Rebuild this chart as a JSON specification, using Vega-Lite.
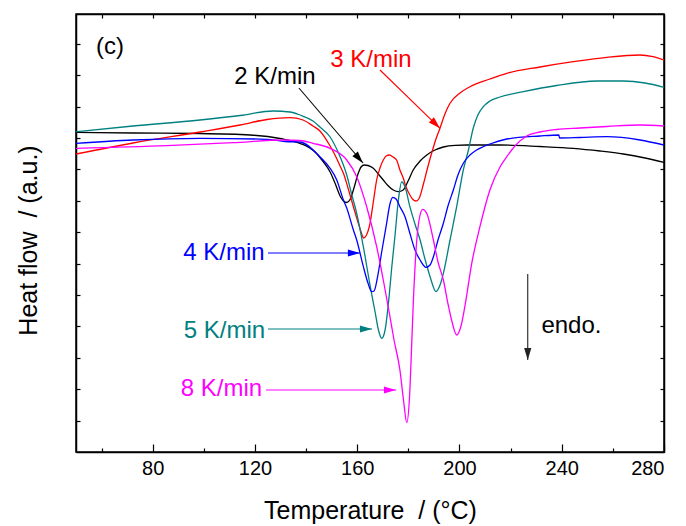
{
  "$schema": "https://vega.github.io/schema/vega-lite/v6.json",
  "width": 588,
  "height": 438,
  "autosize": "none",
  "padding": {"left": 76, "top": 14, "right": 22, "bottom": 74},
  "background": "white",
  "config": {
    "view": {"stroke": "black", "strokeWidth": 1.5},
    "font": "Liberation Sans",
    "axis": {
      "domainColor": "black", "domainWidth": 1.5, "tickColor": "black", "tickWidth": 1.2,
      "labelFont": "Liberation Sans", "labelFontSize": 20, "labelColor": "black",
      "titleFont": "Liberation Sans", "titleFontSize": 25, "titleFontWeight": "normal", "titleColor": "black",
      "grid": false
    }
  },
  "datasets": {
    "curves": [
      {"series":"2 K/min","T":50,"Y":319.7},{"series":"2 K/min","T":72.3,"Y":319},{"series":"2 K/min","T":98.5,"Y":318.5},{"series":"2 K/min","T":118.1,"Y":317},{"series":"2 K/min","T":129.8,"Y":313.5},{"series":"2 K/min","T":137.6,"Y":308.7},{"series":"2 K/min","T":143.5,"Y":300},{"series":"2 K/min","T":146.2,"Y":292},{"series":"2 K/min","T":149.4,"Y":280},{"series":"2 K/min","T":151.3,"Y":269},{"series":"2 K/min","T":153.3,"Y":256},{"series":"2 K/min","T":154.6,"Y":251},{"series":"2 K/min","T":155.9,"Y":249.5},{"series":"2 K/min","T":157.2,"Y":252.5},{"series":"2 K/min","T":158.5,"Y":262},{"series":"2 K/min","T":160.4,"Y":278.7},{"series":"2 K/min","T":161.5,"Y":285},{"series":"2 K/min","T":162.7,"Y":287},{"series":"2 K/min","T":164.2,"Y":286.5},{"series":"2 K/min","T":166.3,"Y":283.7},{"series":"2 K/min","T":168.1,"Y":278.5},{"series":"2 K/min","T":170.2,"Y":272},{"series":"2 K/min","T":172.0,"Y":266.5},{"series":"2 K/min","T":174.1,"Y":262},{"series":"2 K/min","T":176.1,"Y":260.3},{"series":"2 K/min","T":178.0,"Y":262},{"series":"2 K/min","T":179.9,"Y":271},{"series":"2 K/min","T":181.9,"Y":282},{"series":"2 K/min","T":184.6,"Y":291},{"series":"2 K/min","T":187.2,"Y":297},{"series":"2 K/min","T":190.4,"Y":302},{"series":"2 K/min","T":193.7,"Y":305},{"series":"2 K/min","T":198.3,"Y":306.7},{"series":"2 K/min","T":202.8,"Y":307},{"series":"2 K/min","T":215.9,"Y":307},{"series":"2 K/min","T":231.5,"Y":305.5},{"series":"2 K/min","T":244.5,"Y":303.7},{"series":"2 K/min","T":255.0,"Y":301},{"series":"2 K/min","T":264.1,"Y":298},{"series":"2 K/min","T":272.6,"Y":294},{"series":"2 K/min","T":280,"Y":289.7},
      {"series":"3 K/min","T":50,"Y":298},{"series":"3 K/min","T":72.3,"Y":309},{"series":"3 K/min","T":98.5,"Y":320},{"series":"3 K/min","T":114.2,"Y":327},{"series":"3 K/min","T":124.7,"Y":332.5},{"series":"3 K/min","T":133.7,"Y":334.3},{"series":"3 K/min","T":138.8,"Y":332},{"series":"3 K/min","T":142.7,"Y":326},{"series":"3 K/min","T":145.4,"Y":321},{"series":"3 K/min","T":149.4,"Y":306},{"series":"3 K/min","T":151.3,"Y":297},{"series":"3 K/min","T":153.3,"Y":286},{"series":"3 K/min","T":154.6,"Y":278.7},{"series":"3 K/min","T":156.4,"Y":264},{"series":"3 K/min","T":158.5,"Y":245.3},{"series":"3 K/min","T":160.4,"Y":229},{"series":"3 K/min","T":161.5,"Y":220},{"series":"3 K/min","T":162.5,"Y":214},{"series":"3 K/min","T":163.4,"Y":216},{"series":"3 K/min","T":165.0,"Y":228.7},{"series":"3 K/min","T":166.3,"Y":250},{"series":"3 K/min","T":167.6,"Y":272},{"series":"3 K/min","T":168.9,"Y":284},{"series":"3 K/min","T":170.2,"Y":292},{"series":"3 K/min","T":171.3,"Y":296},{"series":"3 K/min","T":172.6,"Y":297},{"series":"3 K/min","T":174.0,"Y":295},{"series":"3 K/min","T":175.4,"Y":292},{"series":"3 K/min","T":176.7,"Y":282},{"series":"3 K/min","T":178.0,"Y":274},{"series":"3 K/min","T":179.1,"Y":265},{"series":"3 K/min","T":180.6,"Y":257},{"series":"3 K/min","T":181.8,"Y":252.5},{"series":"3 K/min","T":183.0,"Y":251},{"series":"3 K/min","T":184.2,"Y":253.5},{"series":"3 K/min","T":185.9,"Y":268},{"series":"3 K/min","T":187.5,"Y":284},{"series":"3 K/min","T":189.1,"Y":298.7},{"series":"3 K/min","T":190.8,"Y":313},{"series":"3 K/min","T":192.4,"Y":324},{"series":"3 K/min","T":194.3,"Y":338},{"series":"3 K/min","T":196.3,"Y":348.7},{"series":"3 K/min","T":200.2,"Y":359},{"series":"3 K/min","T":204.1,"Y":365.3},{"series":"3 K/min","T":211.9,"Y":373},{"series":"3 K/min","T":218.5,"Y":378.7},{"series":"3 K/min","T":231.5,"Y":385},{"series":"3 K/min","T":244.5,"Y":390.3},{"series":"3 K/min","T":257.6,"Y":394.7},{"series":"3 K/min","T":270.6,"Y":397},{"series":"3 K/min","T":275.7,"Y":395.3},{"series":"3 K/min","T":280,"Y":392},
      {"series":"5 K/min","T":50,"Y":320.3},{"series":"5 K/min","T":72.3,"Y":326},{"series":"5 K/min","T":98.5,"Y":332},{"series":"5 K/min","T":114.2,"Y":336.5},{"series":"5 K/min","T":127.1,"Y":341},{"series":"5 K/min","T":133.7,"Y":340},{"series":"5 K/min","T":137.6,"Y":337},{"series":"5 K/min","T":142.7,"Y":331},{"series":"5 K/min","T":145.4,"Y":325},{"series":"5 K/min","T":149.4,"Y":315},{"series":"5 K/min","T":152.5,"Y":300},{"series":"5 K/min","T":155.9,"Y":277},{"series":"5 K/min","T":158.0,"Y":256},{"series":"5 K/min","T":159.8,"Y":238.7},{"series":"5 K/min","T":162.4,"Y":205.3},{"series":"5 K/min","T":165.0,"Y":167},{"series":"5 K/min","T":167.0,"Y":140},{"series":"5 K/min","T":168.3,"Y":122},{"series":"5 K/min","T":169.6,"Y":113.7},{"series":"5 K/min","T":170.9,"Y":122},{"series":"5 K/min","T":172.2,"Y":148.7},{"series":"5 K/min","T":173.6,"Y":187},{"series":"5 K/min","T":174.8,"Y":217},{"series":"5 K/min","T":176.1,"Y":252},{"series":"5 K/min","T":177.4,"Y":270},{"series":"5 K/min","T":178.7,"Y":265.3},{"series":"5 K/min","T":180.6,"Y":245.3},{"series":"5 K/min","T":182.6,"Y":228},{"series":"5 K/min","T":184.6,"Y":212},{"series":"5 K/min","T":186.5,"Y":193},{"series":"5 K/min","T":188.5,"Y":175.3},{"series":"5 K/min","T":190.8,"Y":160.5},{"series":"5 K/min","T":192.4,"Y":167},{"series":"5 K/min","T":193.7,"Y":178.7},{"series":"5 K/min","T":196.3,"Y":212},{"series":"5 K/min","T":198.9,"Y":245.3},{"series":"5 K/min","T":201.5,"Y":282},{"series":"5 K/min","T":203.5,"Y":302},{"series":"5 K/min","T":205.4,"Y":324},{"series":"5 K/min","T":207.2,"Y":337},{"series":"5 K/min","T":209.3,"Y":345.3},{"series":"5 K/min","T":211.9,"Y":351},{"series":"5 K/min","T":215.9,"Y":355},{"series":"5 K/min","T":225.0,"Y":360.3},{"series":"5 K/min","T":238.0,"Y":366.5},{"series":"5 K/min","T":253.7,"Y":371},{"series":"5 K/min","T":264.1,"Y":371},{"series":"5 K/min","T":272.6,"Y":369},{"series":"5 K/min","T":280,"Y":364.7},
      {"series":"4 K/min","T":50,"Y":308.7},{"series":"4 K/min","T":72.3,"Y":312},{"series":"4 K/min","T":98.5,"Y":313.7},{"series":"4 K/min","T":124.7,"Y":312.7},{"series":"4 K/min","T":131.8,"Y":310.5},{"series":"4 K/min","T":137.6,"Y":310},{"series":"4 K/min","T":145.4,"Y":295.3},{"series":"4 K/min","T":149.4,"Y":283.7},{"series":"4 K/min","T":152.0,"Y":272},{"series":"4 K/min","T":154.6,"Y":252},{"series":"4 K/min","T":155.9,"Y":244},{"series":"4 K/min","T":158.5,"Y":222},{"series":"4 K/min","T":159.8,"Y":212},{"series":"4 K/min","T":162.4,"Y":185.3},{"series":"4 K/min","T":164.2,"Y":169},{"series":"4 K/min","T":165.7,"Y":160.3},{"series":"4 K/min","T":166.6,"Y":161},{"series":"4 K/min","T":168.2,"Y":178.7},{"series":"4 K/min","T":169.7,"Y":202},{"series":"4 K/min","T":171.5,"Y":228.7},{"series":"4 K/min","T":172.8,"Y":248},{"series":"4 K/min","T":173.9,"Y":254.7},{"series":"4 K/min","T":175.2,"Y":253},{"series":"4 K/min","T":176.7,"Y":245.3},{"series":"4 K/min","T":178.7,"Y":235.3},{"series":"4 K/min","T":180.6,"Y":218.7},{"series":"4 K/min","T":182.6,"Y":202},{"series":"4 K/min","T":184.6,"Y":192},{"series":"4 K/min","T":186.9,"Y":184.7},{"series":"4 K/min","T":188.5,"Y":187},{"series":"4 K/min","T":189.8,"Y":195.3},{"series":"4 K/min","T":191.6,"Y":212},{"series":"4 K/min","T":193.7,"Y":228.7},{"series":"4 K/min","T":195.5,"Y":246},{"series":"4 K/min","T":197.6,"Y":262},{"series":"4 K/min","T":199.4,"Y":277},{"series":"4 K/min","T":201.5,"Y":288.7},{"series":"4 K/min","T":204.1,"Y":297},{"series":"4 K/min","T":206.7,"Y":302},{"series":"4 K/min","T":211.9,"Y":308},{"series":"4 K/min","T":218.5,"Y":313},{"series":"4 K/min","T":231.5,"Y":316},{"series":"4 K/min","T":238.9,"Y":317},{"series":"4 K/min","T":239.1,"Y":314},{"series":"4 K/min","T":247.1,"Y":314.5},{"series":"4 K/min","T":257.6,"Y":315.3},{"series":"4 K/min","T":270.6,"Y":312},{"series":"4 K/min","T":280,"Y":307},
      {"series":"8 K/min","T":50,"Y":303.7},{"series":"8 K/min","T":85.6,"Y":306.3},{"series":"8 K/min","T":111.4,"Y":309.3},{"series":"8 K/min","T":131.0,"Y":312},{"series":"8 K/min","T":137.6,"Y":311.5},{"series":"8 K/min","T":142.7,"Y":308.7},{"series":"8 K/min","T":149.4,"Y":303.7},{"series":"8 K/min","T":155.9,"Y":292},{"series":"8 K/min","T":159.8,"Y":275.3},{"series":"8 K/min","T":163.7,"Y":245.3},{"series":"8 K/min","T":167.6,"Y":205.3},{"series":"8 K/min","T":170.2,"Y":172},{"series":"8 K/min","T":172.2,"Y":144},{"series":"8 K/min","T":174.4,"Y":112},{"series":"8 K/min","T":176.7,"Y":82},{"series":"8 K/min","T":178.1,"Y":52},{"series":"8 K/min","T":179.4,"Y":29.3},{"series":"8 K/min","T":180.5,"Y":57},{"series":"8 K/min","T":181.3,"Y":107},{"series":"8 K/min","T":181.9,"Y":147},{"series":"8 K/min","T":183.3,"Y":212},{"series":"8 K/min","T":184.2,"Y":232},{"series":"8 K/min","T":185.6,"Y":242.7},{"series":"8 K/min","T":187.3,"Y":238},{"series":"8 K/min","T":189.8,"Y":212},{"series":"8 K/min","T":191.6,"Y":190},{"series":"8 K/min","T":193.7,"Y":172},{"series":"8 K/min","T":195.6,"Y":147},{"series":"8 K/min","T":197.1,"Y":130},{"series":"8 K/min","T":198.9,"Y":117},{"series":"8 K/min","T":200.6,"Y":126},{"series":"8 K/min","T":202.2,"Y":147},{"series":"8 K/min","T":204.8,"Y":188.7},{"series":"8 K/min","T":208.0,"Y":225.3},{"series":"8 K/min","T":211.9,"Y":262},{"series":"8 K/min","T":215.9,"Y":285.3},{"series":"8 K/min","T":218.5,"Y":295.3},{"series":"8 K/min","T":221.7,"Y":306},{"series":"8 K/min","T":226.3,"Y":316},{"series":"8 K/min","T":231.5,"Y":320},{"series":"8 K/min","T":238.0,"Y":322.5},{"series":"8 K/min","T":247.1,"Y":324},{"series":"8 K/min","T":257.6,"Y":325.5},{"series":"8 K/min","T":270.6,"Y":327},{"series":"8 K/min","T":280,"Y":326}
    ],
    "labels": [
      {"series":"other","label":"(c)","T":63.3,"Y":405},
      {"series":"2 K/min","label":"2 K/min","T":127.8,"Y":375},
      {"series":"3 K/min","label":"3 K/min","T":165.4,"Y":392},
      {"series":"4 K/min","label":"4 K/min","T":107.9,"Y":199},
      {"series":"5 K/min","label":"5 K/min","T":108.1,"Y":121},
      {"series":"8 K/min","label":"8 K/min","T":106.9,"Y":63},
      {"series":"other","label":"endo.","T":243.8,"Y":126}
    ],
    "arrows": [
      {"series":"2 K/min","T":137.2,"Y":364,"T2":162.3,"Y2":289},
      {"series":"3 K/min","T":168.9,"Y":382,"T2":192.4,"Y2":323.7},
      {"series":"4 K/min","T":125.1,"Y":199,"T2":161.1,"Y2":199},
      {"series":"5 K/min","T":125.1,"Y":123,"T2":165.8,"Y2":123},
      {"series":"8 K/min","T":124.3,"Y":62,"T2":175.2,"Y2":62},
      {"series":"endo","T":226.7,"Y":178,"T2":226.7,"Y2":92}
    ],
    "heads": [
      {"series":"2 K/min","T":160.7,"Y":293.6,"angle":139.5},
      {"series":"3 K/min","T":190.7,"Y":327.9,"angle":134.2},
      {"series":"4 K/min","T":158.7,"Y":199,"angle":90},
      {"series":"5 K/min","T":163.4,"Y":123,"angle":90},
      {"series":"8 K/min","T":172.8,"Y":62,"angle":90},
      {"series":"endo","T":226.7,"Y":98,"angle":180}
    ]
  },
  "resolve": {"axis": {"x": "independent", "y": "independent"}},
  "layer": [
    {
      "data": {"name": "curves"},
      "mark": {"type": "line", "strokeWidth": 1.3, "clip": true, "interpolate": "monotone"},
      "encoding": {
        "x": {"field": "T", "type": "quantitative", "scale": {"domain": [50, 280], "nice": false, "zero": false},
          "axis": {"orient": "bottom", "values": [80, 120, 160, 200, 240, 280], "tickSize": -8, "labelPadding": 14, "title": "Temperature\u00a0 / (°C)", "titlePadding": 20}},
        "y": {"field": "Y", "type": "quantitative", "scale": {"domain": [0, 438], "nice": false, "zero": false},
          "axis": {"orient": "left", "values": [31.4, 62.8, 94.2, 125.6, 157, 188.4, 219.8, 251.2, 282.6, 314, 345.4, 376.8, 408.2], "tickSize": -4, "labels": false, "title": "Heat flow\u00a0 / (a.u.)", "titlePadding": 34, "titleY": 226}},
        "color": {"field": "series", "type": "nominal", "legend": null,
          "scale": {"domain": ["2 K/min", "3 K/min", "4 K/min", "5 K/min", "8 K/min", "other", "endo"], "range": ["#000000", "#FF0000", "#0000FF", "#008080", "#FF00FF", "#000000", "#222222"]}},
        "detail": {"field": "series"}
      }
    },
    {
      "data": {"name": "labels"},
      "mark": {"type": "text", "fontSize": 24, "font": "Liberation Sans", "align": "center", "baseline": "middle"},
      "encoding": {
        "x": {"field": "T", "type": "quantitative",
          "axis": {"orient": "top", "values": [60, 80, 100, 120, 140, 160, 180, 200, 220, 240, 260], "tickSize": -4, "labels": false, "title": null}},
        "y": {"field": "Y", "type": "quantitative",
          "axis": {"orient": "right", "values": [31.4, 62.8, 94.2, 125.6, 157, 188.4, 219.8, 251.2, 282.6, 314, 345.4, 376.8, 408.2], "tickSize": -4, "labels": false, "title": null}},
        "text": {"field": "label"},
        "color": {"field": "series", "type": "nominal", "legend": null}
      }
    },
    {
      "data": {"name": "arrows"},
      "mark": {"type": "rule", "strokeWidth": 1.1},
      "encoding": {
        "x": {"field": "T", "type": "quantitative",
          "axis": {"orient": "bottom", "values": [60, 100, 140, 180, 220, 260], "tickSize": -4, "labels": false, "title": null, "domain": false}},
        "y": {"field": "Y", "type": "quantitative", "axis": null},
        "x2": {"field": "T2"},
        "y2": {"field": "Y2"},
        "color": {"field": "series", "type": "nominal", "legend": null}
      }
    },
    {
      "data": {"name": "heads"},
      "mark": {"type": "point", "filled": true, "opacity": 1, "shape": "M0,-1L0.6,1L-0.6,1Z", "size": 144, "strokeWidth": 0},
      "encoding": {
        "x": {"field": "T", "type": "quantitative", "axis": null},
        "y": {"field": "Y", "type": "quantitative", "axis": null},
        "angle": {"field": "angle", "type": "quantitative", "scale": null},
        "color": {"field": "series", "type": "nominal", "legend": null}
      }
    }
  ]
}
